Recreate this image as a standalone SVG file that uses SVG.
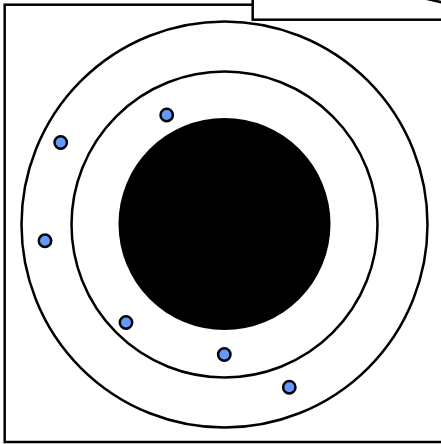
<svg xmlns="http://www.w3.org/2000/svg" width="441" height="444" viewBox="0 0 441 444">
<style>
.frame{fill:#fff;stroke:#000;stroke-width:2.5}
.ring{fill:none;stroke:#000;stroke-width:2.5}
.dot{fill:#6699ff;stroke:#000;stroke-width:2.5}
</style>
<rect width="441" height="444" fill="#fff"/>
<g id="frame"><rect class="frame" x="4.7" y="4.7" width="445" height="437.3"/></g>
<g id="label-box">
<rect class="frame" x="252.7" y="-10" width="200" height="29.7"/>
<line x1="405" y1="-6" x2="445" y2="3" stroke="#000" stroke-width="2.5"/>
</g>
<g id="outer-ring"><circle class="ring" cx="224.5" cy="224.5" r="203"/></g>
<g id="inner-ring"><circle class="ring" cx="224.5" cy="224.5" r="153"/></g>
<g id="core"><circle cx="224.5" cy="224" r="106" fill="#000"/></g>
<g id="particles">
<circle class="dot" cx="60.7" cy="142.5" r="6.2"/>
<circle class="dot" cx="166.7" cy="115" r="6.2"/>
<circle class="dot" cx="45" cy="240.7" r="6.2"/>
<circle class="dot" cx="126" cy="322.5" r="6.2"/>
<circle class="dot" cx="224.3" cy="354.5" r="6.2"/>
<circle class="dot" cx="289.3" cy="387.3" r="6.2"/>
</g>
<g id="connectors"></g>
</svg>
